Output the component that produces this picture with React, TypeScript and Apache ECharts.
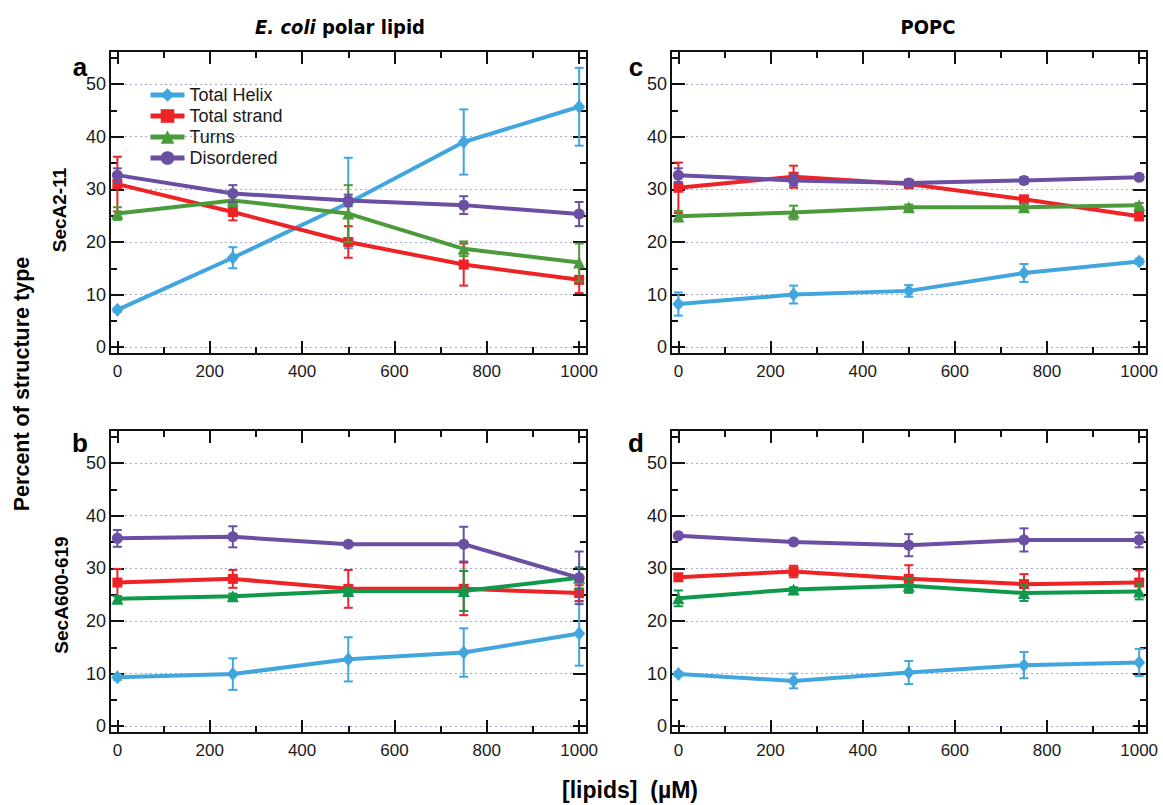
import React, { useEffect, useRef } from 'react';
import * as echarts from 'echarts';

// ---------- data ----------
const xValues = [0, 250, 500, 750, 1000];
const xMajorTicks = [0, 200, 400, 600, 800, 1000];
const xMinorTicks = [100, 300, 500, 700, 900];
const yMajorTicks = [0, 10, 20, 30, 40, 50];
const yMinorTicks = [5, 15, 25, 35, 45, 55];
const seriesNames = ['Total Helix', 'Total strand', 'Turns', 'Disordered'];

// panel a: SecA2-11, E. coli polar lipid
const aHelix = [7.1, 17.0, 27.4, 39.0, 45.7];
const aHelixErr = [0.4, 2.0, 8.6, 6.2, 7.4];
const aStrand = [31.0, 25.7, 20.0, 15.7, 12.8];
const aStrandErr = [5.2, 1.6, 3.0, 4.0, 2.5];
const aTurns = [25.4, 27.9, 25.4, 18.7, 16.1];
const aTurnsErr = [1.2, 1.1, 5.4, 1.4, 3.6];
const aDisordered = [32.7, 29.2, 27.9, 27.0, 25.3];
const aDisorderedErr = [1.3, 1.6, 1.1, 1.7, 2.3];

// panel c: SecA2-11, POPC
const cHelix = [8.2, 10.0, 10.7, 14.1, 16.3];
const cHelixErr = [2.2, 1.7, 1.1, 1.7, 0.5];
const cStrand = [30.3, 32.4, 31.0, 28.1, 24.9];
const cStrandErr = [4.8, 2.1, 0.8, 0.6, 0.8];
const cTurns = [24.9, 25.6, 26.6, 26.6, 27.0];
const cTurnsErr = [1.0, 1.3, 0.5, 0.6, 0.4];
const cDisordered = [32.7, 31.7, 31.2, 31.7, 32.3];
const cDisorderedErr = [1.3, 1.0, 0.6, 0.6, 0.5];

// panel b: SecA600-619, E. coli polar lipid
const bHelix = [9.3, 9.9, 12.7, 14.0, 17.6];
const bHelixErr = [0.5, 3.0, 4.2, 4.6, 6.1];
const bStrand = [27.3, 28.0, 26.1, 26.1, 25.3];
const bStrandErr = [2.6, 1.7, 3.6, 5.0, 1.5];
const bTurns = [24.2, 24.7, 25.7, 25.7, 28.2];
const bTurnsErr = [0.5, 0.5, 0.5, 3.8, 2.0];
const bDisordered = [35.7, 36.0, 34.6, 34.6, 28.2];
const bDisorderedErr = [1.6, 2.0, 0.4, 3.3, 5.0];

// panel d: SecA600-619, POPC
const dHelix = [9.9, 8.6, 10.2, 11.6, 12.1];
const dHelixErr = [0.4, 1.4, 2.2, 2.5, 2.6];
const dStrand = [28.3, 29.4, 28.0, 27.0, 27.3];
const dStrandErr = [0.6, 1.1, 2.6, 1.9, 2.3];
const dTurns = [24.3, 26.0, 26.7, 25.3, 25.6];
const dTurnsErr = [1.5, 0.4, 1.3, 1.5, 1.5];
const dDisordered = [36.2, 35.0, 34.4, 35.4, 35.4];
const dDisorderedErr = [0.4, 0.4, 2.1, 2.2, 1.4];

// ---------- styling ----------
const FONT = 'Liberation Sans, Arial, sans-serif';
const NARROW = 'Liberation Sans Narrow, DejaVu Sans Condensed, sans-serif';
const C_HELIX = '#42a6de';
const C_STRAND = '#ee2326';
const C_TURNS_TOP = '#4b9b3d';
const C_TURNS_BOTTOM = '#0f9a4b';
const C_DIS = '#6a4fa3';
const AX = '#111';

const X_MIN = -16;
const X_MAX = 1017;
const Y_MIN = -1.3;
const Y_MAX = 56.3;

const panels = [
  { grid: { left: 110, top: 51, width: 477, height: 303 }, turnsColor: C_TURNS_TOP,
    values: [aHelix, aStrand, aTurns, aDisordered], errs: [aHelixErr, aStrandErr, aTurnsErr, aDisorderedErr] },
  { grid: { left: 671, top: 51, width: 476, height: 303 }, turnsColor: C_TURNS_TOP,
    values: [cHelix, cStrand, cTurns, cDisordered], errs: [cHelixErr, cStrandErr, cTurnsErr, cDisorderedErr] },
  { grid: { left: 110, top: 430, width: 477, height: 303 }, turnsColor: C_TURNS_BOTTOM,
    values: [bHelix, bStrand, bTurns, bDisordered], errs: [bHelixErr, bStrandErr, bTurnsErr, bDisorderedErr] },
  { grid: { left: 671, top: 430, width: 476, height: 303 }, turnsColor: C_TURNS_BOTTOM,
    values: [dHelix, dStrand, dTurns, dDisordered], errs: [dHelixErr, dStrandErr, dTurnsErr, dDisorderedErr] },
];

const symbols = ['diamond', 'rect', 'triangle', 'circle'];
const symbolSizes: any[] = [[12, 14], 10, 12, 11];

function buildOption() {
  const grids: any[] = [];
  const xAxes: any[] = [];
  const yAxes: any[] = [];
  const series: any[] = [];

  panels.forEach((p, gi) => {
    grids.push({ ...p.grid, containLabel: false });
    const lineW = { color: AX, width: 2 };
    const xBase = { gridIndex: gi, type: 'value', min: X_MIN, max: X_MAX, splitLine: { show: false } };
    xAxes.push(
      { ...xBase, position: 'bottom',
        axisLine: { show: true, onZero: false, lineStyle: lineW },
        axisTick: { show: true, inside: true, length: 13, customValues: xMajorTicks, lineStyle: lineW },
        axisLabel: { show: true, customValues: xMajorTicks, margin: 9, fontSize: 17, color: '#1a1a1a', fontFamily: FONT,
          formatter: (v: number) => String(v) } },
      { ...xBase, position: 'bottom',
        axisLine: { show: false, onZero: false },
        axisTick: { show: true, inside: true, length: 7, customValues: xMinorTicks, lineStyle: lineW },
        axisLabel: { show: false } },
      { ...xBase, position: 'top',
        axisLine: { show: true, onZero: false, lineStyle: lineW },
        axisTick: { show: true, inside: true, length: 13, customValues: xMajorTicks, lineStyle: lineW },
        axisLabel: { show: false } },
      { ...xBase, position: 'top',
        axisLine: { show: false, onZero: false },
        axisTick: { show: true, inside: true, length: 7, customValues: xMinorTicks, lineStyle: lineW },
        axisLabel: { show: false } },
    );
    const yBase = { gridIndex: gi, type: 'value', min: Y_MIN, max: Y_MAX };
    yAxes.push(
      { ...yBase, position: 'left',
        axisLine: { show: true, onZero: false, lineStyle: lineW },
        axisTick: { show: true, inside: true, length: 14, customValues: yMajorTicks, lineStyle: lineW },
        axisLabel: { show: true, customValues: yMajorTicks, margin: 4, fontSize: 18, color: '#1a1a1a', fontFamily: FONT,
          formatter: (v: number) => String(v) },
        splitLine: { show: true, lineStyle: { color: '#a3a7de', width: 1, type: [2, 3] } } },
      { ...yBase, position: 'left',
        axisLine: { show: false, onZero: false },
        axisTick: { show: true, inside: true, length: 7, customValues: yMinorTicks, lineStyle: lineW },
        axisLabel: { show: false }, splitLine: { show: false } },
      { ...yBase, position: 'right',
        axisLine: { show: true, onZero: false, lineStyle: lineW },
        axisTick: { show: true, inside: true, length: 14, customValues: yMajorTicks, lineStyle: lineW },
        axisLabel: { show: false }, splitLine: { show: false } },
      { ...yBase, position: 'right',
        axisLine: { show: false, onZero: false },
        axisTick: { show: true, inside: true, length: 7, customValues: yMinorTicks, lineStyle: lineW },
        axisLabel: { show: false }, splitLine: { show: false } },
    );

    const colors = [C_HELIX, C_STRAND, p.turnsColor, C_DIS];
    const xi = gi * 4;
    const yi = gi * 4;
    seriesNames.forEach((name, si) => {
      const color = colors[si];
      const vals = p.values[si];
      const errs = p.errs[si];
      series.push({
        type: 'custom',
        name: `err-${gi}-${si}`,
        xAxisIndex: xi,
        yAxisIndex: yi,
        z: 2 + si,
        clip: false,
        silent: true,
        encode: { x: 0, y: 1 },
        data: xValues.map((x, i) => [x, vals[i], errs[i]]),
        renderItem: (params: any, api: any) => {
          const x = api.value(0);
          const y = api.value(1);
          const e = api.value(2);
          const top = api.coord([x, y + e]);
          const bot = api.coord([x, y - e]);
          const hw = 4.5;
          const style = { stroke: color, lineWidth: 2 };
          return {
            type: 'group',
            children: [
              { type: 'line', shape: { x1: top[0], y1: top[1], x2: bot[0], y2: bot[1] }, style },
              { type: 'line', shape: { x1: top[0] - hw, y1: top[1], x2: top[0] + hw, y2: top[1] }, style },
              { type: 'line', shape: { x1: bot[0] - hw, y1: bot[1], x2: bot[0] + hw, y2: bot[1] }, style },
            ],
          };
        },
      });
      series.push({
        type: 'line',
        name,
        xAxisIndex: xi,
        yAxisIndex: yi,
        z: 2 + si,
        data: xValues.map((x, i) => [x, vals[i]]),
        symbol: symbols[si],
        symbolSize: symbolSizes[si],
        showAllSymbol: true,
        lineStyle: { color, width: 4 },
        itemStyle: { color },
        emphasis: { disabled: true },
      });
    });
  });

  const txt = (text: string, x: number, y: number, size: number, opts: any = {}) => ({
    type: 'text',
    x,
    y,
    rotation: opts.rotation || 0,
    style: {
      text,
      fill: '#000',
      fontSize: size,
      fontWeight: 'bold',
      fontFamily: opts.family || FONT,
      align: 'center',
      verticalAlign: 'middle',
    },
  });

  return {
    animation: false,
    backgroundColor: '#ffffff',
    textStyle: { fontFamily: FONT },
    grid: grids,
    xAxis: xAxes,
    yAxis: yAxes,
    series,
    legend: {
      show: true,
      orient: 'vertical',
      left: 143,
      top: 81,
      itemWidth: 34,
      itemHeight: 17,
      itemGap: 3,
      data: seriesNames,
      lineStyle: { width: 5 },
      textStyle: { fontSize: 18, lineHeight: 17, color: '#1a1a1a', fontFamily: FONT },
      selectedMode: false,
    },
    graphic: [
      {
        type: 'text',
        x: 340,
        y: 27,
        style: {
          text: '{i|E. coli}{n| polar lipid}',
          fill: '#000',
          align: 'center',
          verticalAlign: 'middle',
          rich: {
            i: { fontStyle: 'italic', fontWeight: 'bold', fontSize: 20, fontFamily: NARROW, fill: '#000' },
            n: { fontWeight: 'bold', fontSize: 20, fontFamily: NARROW, fill: '#000' },
          },
        },
      },
      txt('POPC', 928, 27, 20, { family: NARROW }),
      txt('a', 80, 67, 26),
      txt('c', 636, 67, 26),
      txt('b', 80, 443, 26),
      txt('d', 636, 443, 26),
      txt('SecA2-11', 59, 210, 19, { rotation: Math.PI / 2 }),
      txt('SecA600-619', 61, 595, 19, { rotation: Math.PI / 2 }),
      txt('Percent of structure type', 22, 384, 21.5, { rotation: Math.PI / 2 }),
      txt('[lipids]  (µM)', 630, 790, 23),
    ],
  };
}

export default function App() {
  const ref = useRef<HTMLDivElement>(null);
  useEffect(() => {
    document.body.style.margin = '0';
    if (!ref.current) return;
    const chart = echarts.init(ref.current, null, { renderer: 'svg' });
    chart.setOption(buildOption() as any);
    return () => {
      chart.dispose();
    };
  }, []);
  return <div ref={ref} style={{ width: 1163, height: 805 }} />;
}
